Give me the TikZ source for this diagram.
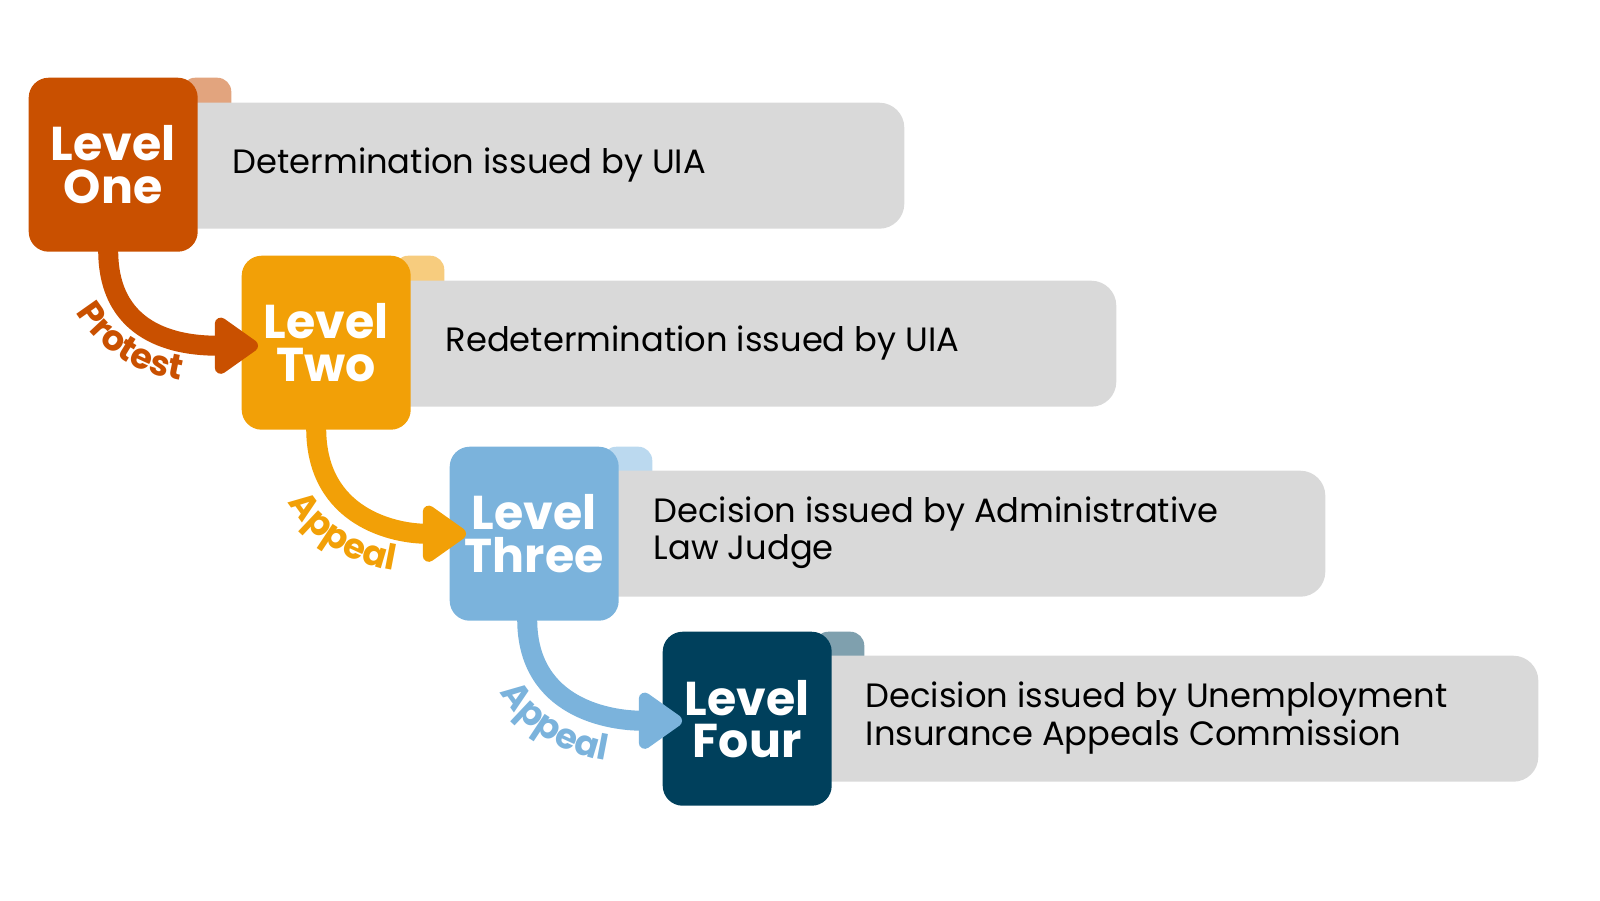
\documentclass[tikz,border=0pt]{standalone}
\usepackage{fontspec}
\setmainfont{Poppins}
\usetikzlibrary{arrows.meta,decorations.text,calc}
\definecolor{c1}{HTML}{C95000}\definecolor{t1}{HTML}{E2A47E}
\definecolor{c2}{HTML}{F2A007}\definecolor{t2}{HTML}{F7CC7E}
\definecolor{c3}{HTML}{7BB3DC}\definecolor{t3}{HTML}{BBD9EF}
\definecolor{c4}{HTML}{00405C}\definecolor{t4}{HTML}{7FA0AE}
\definecolor{bar}{HTML}{D9D9D9}
\tikzset{
 lvl/.style={fill=#1,rounded corners=0.2cm,minimum width=1.69cm,minimum height=1.74cm,inner sep=0,text=white,font=\fontsize{13.5}{12}\selectfont\bfseries,align=center},
 tab/.style={fill=#1,rounded corners=0.14cm,minimum width=0.5cm,minimum height=0.5cm,inner sep=0},
 bar/.style={fill=bar,rounded corners=0.25cm,minimum width=8cm,minimum height=1.26cm,inner sep=0},
 txt/.style={anchor=west,font=\fontsize{9.6}{9.4}\selectfont,align=left,inner sep=0},
 arr/.style={draw=#1,line width=0.2cm,-{Triangle[length=4.8mm,width=6.4mm,round]}},
}
\begin{document}
\begin{tikzpicture}
\useasboundingbox (0,0) rectangle (16,-9);
% level one
\node[tab=t1,anchor=north east] (T1) at (2.32,-0.77) {};
\node[bar,anchor=north east,minimum width=7.6cm] (B1) at (9.05,-1.02) {};
\node[lvl=c1,anchor=north west] (L1) at (0.28,-0.77) {Level\\One};
\node[txt] (X1) at (2.32,-1.65) {Determination issued by UIA};
% level two
\node[tab=t2,anchor=north east] (T2) at (4.45,-2.55) {};
\node[bar,anchor=north east,minimum width=7.6cm] (B2) at (11.17,-2.80) {};
\node[lvl=c2,anchor=north west] (L2) at (2.41,-2.55) {Level\\Two};
\node[txt] (X2) at (4.45,-3.43) {Redetermination issued by UIA};
% level three
\node[tab=t3,anchor=north east] (T3) at (6.53,-4.46) {};
\node[bar,anchor=north east,minimum width=7.6cm] (B3) at (13.26,-4.70) {};
\node[lvl=c3,anchor=north west] (L3) at (4.49,-4.46) {Level\\Three};
\node[txt] (X3) at (6.53,-5.33) {Decision issued by Administrative\\Law Judge};
% level four
\node[tab=t4,anchor=north east] (T4) at (8.65,-6.31) {};
\node[bar,anchor=north east,minimum width=7.6cm] (B4) at (15.39,-6.55) {};
\node[lvl=c4,anchor=north west] (L4) at (6.62,-6.31) {Level\\Four};
\node[txt] (X4) at (8.65,-7.18) {Decision issued by Unemployment\\Insurance Appeals Commission};
% arrows
\draw[arr=c1] ($(L1.south)+(-0.05,0.02)$) .. controls +(0,-0.9) and +(-0.7,0) .. ($(L2.west)+(0.17,-0.03)$);
\draw[arr=c2] ($(L2.south)+(-0.1,0.02)$) .. controls +(0,-0.9) and +(-0.7,0) .. ($(L3.west)+(0.17,-0.0)$);
\draw[arr=c3] ($(L3.south)+(-0.07,0.02)$) .. controls +(0,-0.9) and +(-0.7,0) .. ($(L4.west)+(0.2,-0.02)$);
% labels
\coordinate (p1a) at (0.70,-3.02); \coordinate (p1b) at (1.92,-3.82);
\path[decorate,decoration={text along path,text align=center,text={|\fontsize{10}{10}\selectfont\bfseries\color{c1}|Protest}}] (p1a) .. controls (0.93,-3.5) and (1.4,-3.77) .. (p1b);
\coordinate (p2a) at (2.83,-4.92); \coordinate (p2b) at (4.05,-5.72);
\path[decorate,decoration={text along path,text align=center,text={|\fontsize{10}{10}\selectfont\bfseries\color{c2}|Appeal}}] (p2a) .. controls (3.06,-5.4) and (3.53,-5.67) .. (p2b);
\coordinate (p3a) at (4.95,-6.82); \coordinate (p3b) at (6.17,-7.62);
\path[decorate,decoration={text along path,text align=center,text={|\fontsize{10}{10}\selectfont\bfseries\color{c3}|Appeal}}] (p3a) .. controls (5.18,-7.3) and (5.65,-7.57) .. (p3b);
\end{tikzpicture}
\end{document}
